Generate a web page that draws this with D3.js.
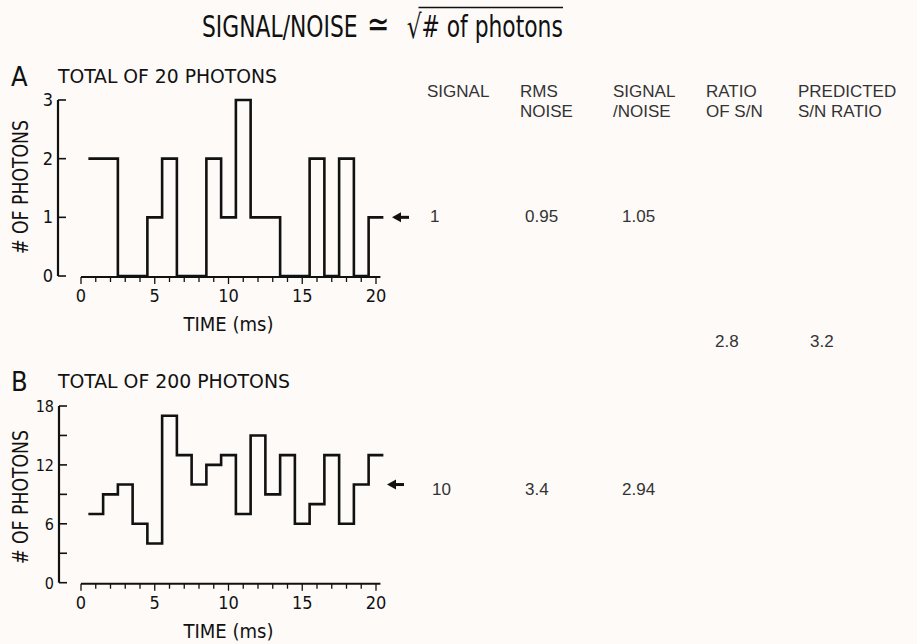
<!DOCTYPE html>
<html><head><meta charset="utf-8">
<script src="https://cdn.jsdelivr.net/npm/d3@7"></script>
<style>
body{margin:0;background:#fdfaf8;}
svg{display:block;}
.cond{font-family:"Liberation Sans Narrow","DejaVu Sans Condensed","Roboto Condensed",sans-serif;fill:#111;}
.tab{font-family:"Liberation Sans",Arial,sans-serif;fill:#333;font-size:17px;}
</style></head>
<body>
<svg id="c" width="917" height="644"></svg>
<script>
// ---- data ----
const timeTicks = [0, 5, 10, 15, 20];
const timeMinor = d3.range(0, 21);
const binCenters = d3.range(1, 21);               // 1 ms bins centred at 1..20 ms
const photonsA = [2,2,0,0,1,2,0,0,2,1,3,1,1,0,0,2,0,2,0,1];
const photonsB = [7,9,10,6,4,17,13,10,12,13,7,15,9,13,6,8,13,6,10,13];
const yTicksA = [0,1,2,3];
const yLabelsA = [0,1,2,3];
const yTicksB = [0,3,6,9,12,15,18];
const yLabelsB = [0,6,12,18];
const signalA = 1, signalB = 10;
const headers = [["SIGNAL"],["RMS","NOISE"],["SIGNAL","/NOISE"],["RATIO","OF S/N"],["PREDICTED","S/N RATIO"]];
const rowA = ["1","0.95","1.05"];
const rowB = ["10","3.4","2.94"];
const ratioRow = ["2.8","3.2"];

const svg = d3.select("#c");

// ---- title (one text element, compressed horizontally to the reference width) ----
const title = svg.append("text").attr("class","cond").attr("font-size",31);
title.append("tspan").text("SIGNAL/NOISE");
title.append("tspan").attr("dx",12).attr("dy",0).attr("font-size",38).text("\u2243");
title.append("tspan").attr("dx",22).attr("dy",1).attr("font-size",33).text("\u221A");
const rad = title.selectAll("tspan").nodes()[2];
title.append("tspan").attr("dx",0).attr("dy",-1).attr("font-size",31).text("# of photons");
const tw = title.node().getBBox().width;
const sx = 361/tw;
title.attr("transform",`translate(202,37) scale(${sx},1)`);
const rb = rad.getBBox();
svg.append("line").attr("x1",202 + (rb.x + rb.width*0.8)*sx).attr("x2",563).attr("y1",7.5).attr("y2",7.5)
  .attr("stroke","#111").attr("stroke-width",1.6);

function panel(opts){
  const g = svg.append("g");
  const x = d3.scaleLinear().domain([0,20]).range([81,376]);
  const y = d3.scaleLinear().domain([0,opts.ymax]).range([opts.y0,opts.ytop]);
  // y axis
  g.append("line").attr("x1",opts.yAxisX).attr("x2",opts.yAxisX).attr("y1",y(0)).attr("y2",y(opts.ymax))
    .attr("stroke","#111").attr("stroke-width",2.2);
  g.selectAll(".yt").data(opts.yTicks).join("line")
    .attr("x1",opts.yAxisX).attr("x2",opts.yAxisX+8).attr("y1",d=>y(d)).attr("y2",d=>y(d))
    .attr("stroke","#111").attr("stroke-width",1.6);
  g.selectAll(".yl").data(opts.yLabels).join("text").attr("class","cond")
    .attr("x",opts.yAxisX-5).attr("y",d=>y(d)+6).attr("text-anchor","end").attr("font-size",opts.yfs)
    .text(d=>d);
  // x axis
  g.append("line").attr("x1",x(0)).attr("x2",x(20.3)).attr("y1",y(0)+1).attr("y2",y(0)+1)
    .attr("stroke","#111").attr("stroke-width",2);
  g.selectAll(".xt").data(timeMinor).join("line")
    .attr("x1",d=>x(d)).attr("x2",d=>x(d)).attr("y1",y(0)+1).attr("y2",d=>y(0)+(d%5===0?8:6))
    .attr("stroke","#111").attr("stroke-width",1.3);
  g.selectAll(".xl").data(timeTicks).join("text").attr("class","cond")
    .attr("x",d=>x(d)).attr("y",y(0)+26).attr("text-anchor","middle").attr("font-size",18)
    .text(d=>d);
  g.append("text").attr("class","cond").attr("x",x(10)).attr("y",y(0)+55).attr("text-anchor","middle")
    .attr("font-size",20).attr("textLength",90).attr("lengthAdjust","spacingAndGlyphs").text("TIME (ms)");
  // y title
  g.append("text").attr("class","cond")
    .attr("transform",`translate(28,${opts.ylabelY}) rotate(-90)`).attr("text-anchor","middle")
    .attr("font-size",21).attr("textLength",134).attr("lengthAdjust","spacingAndGlyphs").text("# OF PHOTONS");
  // trace
  const pts = binCenters.map((c,i)=>[c-0.5, opts.values[i]]);
  pts.push([binCenters[binCenters.length-1]+0.5, opts.values[opts.values.length-1]]);
  const line = d3.line().x(d=>x(d[0])).y(d=>y(d[1])).curve(d3.curveStepAfter);
  g.append("path").attr("d",line(pts)).attr("fill","none").attr("stroke","#111")
    .attr("stroke-width",2.6).attr("stroke-linejoin","miter");
  // panel letter and caption
  g.append("text").attr("class","cond").attr("x",11).attr("y",opts.captionY+3).attr("font-size",27)
    .text(opts.letter);
  g.append("text").attr("class","cond").attr("x",58).attr("y",opts.captionY).attr("font-size",20)
    .attr("textLength",opts.capLen).attr("lengthAdjust","spacingAndGlyphs").text(opts.caption);
  // arrow at signal level
  const ay = y(opts.signal);
  g.append("line").attr("x1",opts.arrowX+7).attr("x2",opts.arrowX+17).attr("y1",ay).attr("y2",ay)
    .attr("stroke","#111").attr("stroke-width",3);
  g.append("path").attr("d",`M${opts.arrowX},${ay}L${opts.arrowX+9},${ay-5}L${opts.arrowX+9},${ay+5}Z`)
    .attr("fill","#111");
  return {x,y};
}

panel({values:photonsA, ymax:3, y0:276, ytop:100, yAxisX:58, yTicks:yTicksA, yLabels:yLabelsA, yfs:18,
  ylabelY:187, letter:"A", caption:"TOTAL OF 20 PHOTONS", captionY:83, capLen:219, signal:signalA, arrowX:392});
panel({values:photonsB, ymax:18, y0:582.7, ytop:406, yAxisX:59, yTicks:yTicksB, yLabels:yLabelsB, yfs:16,
  ylabelY:497, letter:"B", caption:"TOTAL OF 200 PHOTONS", captionY:388, capLen:232, signal:signalB, arrowX:387});

// ---- table ----
const headX = [427,520,613,706,798];
const tab = svg.append("g");
headers.forEach((h,i)=>{
  h.forEach((t,j)=>{
    tab.append("text").attr("class","tab").attr("x",headX[i]).attr("y",97+j*20).text(t);
  });
});
const valX = [430,525,622];
rowA.forEach((t,i)=>tab.append("text").attr("class","tab").attr("x",valX[i]).attr("y",222).text(t));
rowB.forEach((t,i)=>tab.append("text").attr("class","tab").attr("x",valX[i]+(i===0?2:0)).attr("y",495).text(t));
const ratioX = [715,810];
ratioRow.forEach((t,i)=>tab.append("text").attr("class","tab").attr("x",ratioX[i]).attr("y",347).text(t));
</script>
</body></html>
